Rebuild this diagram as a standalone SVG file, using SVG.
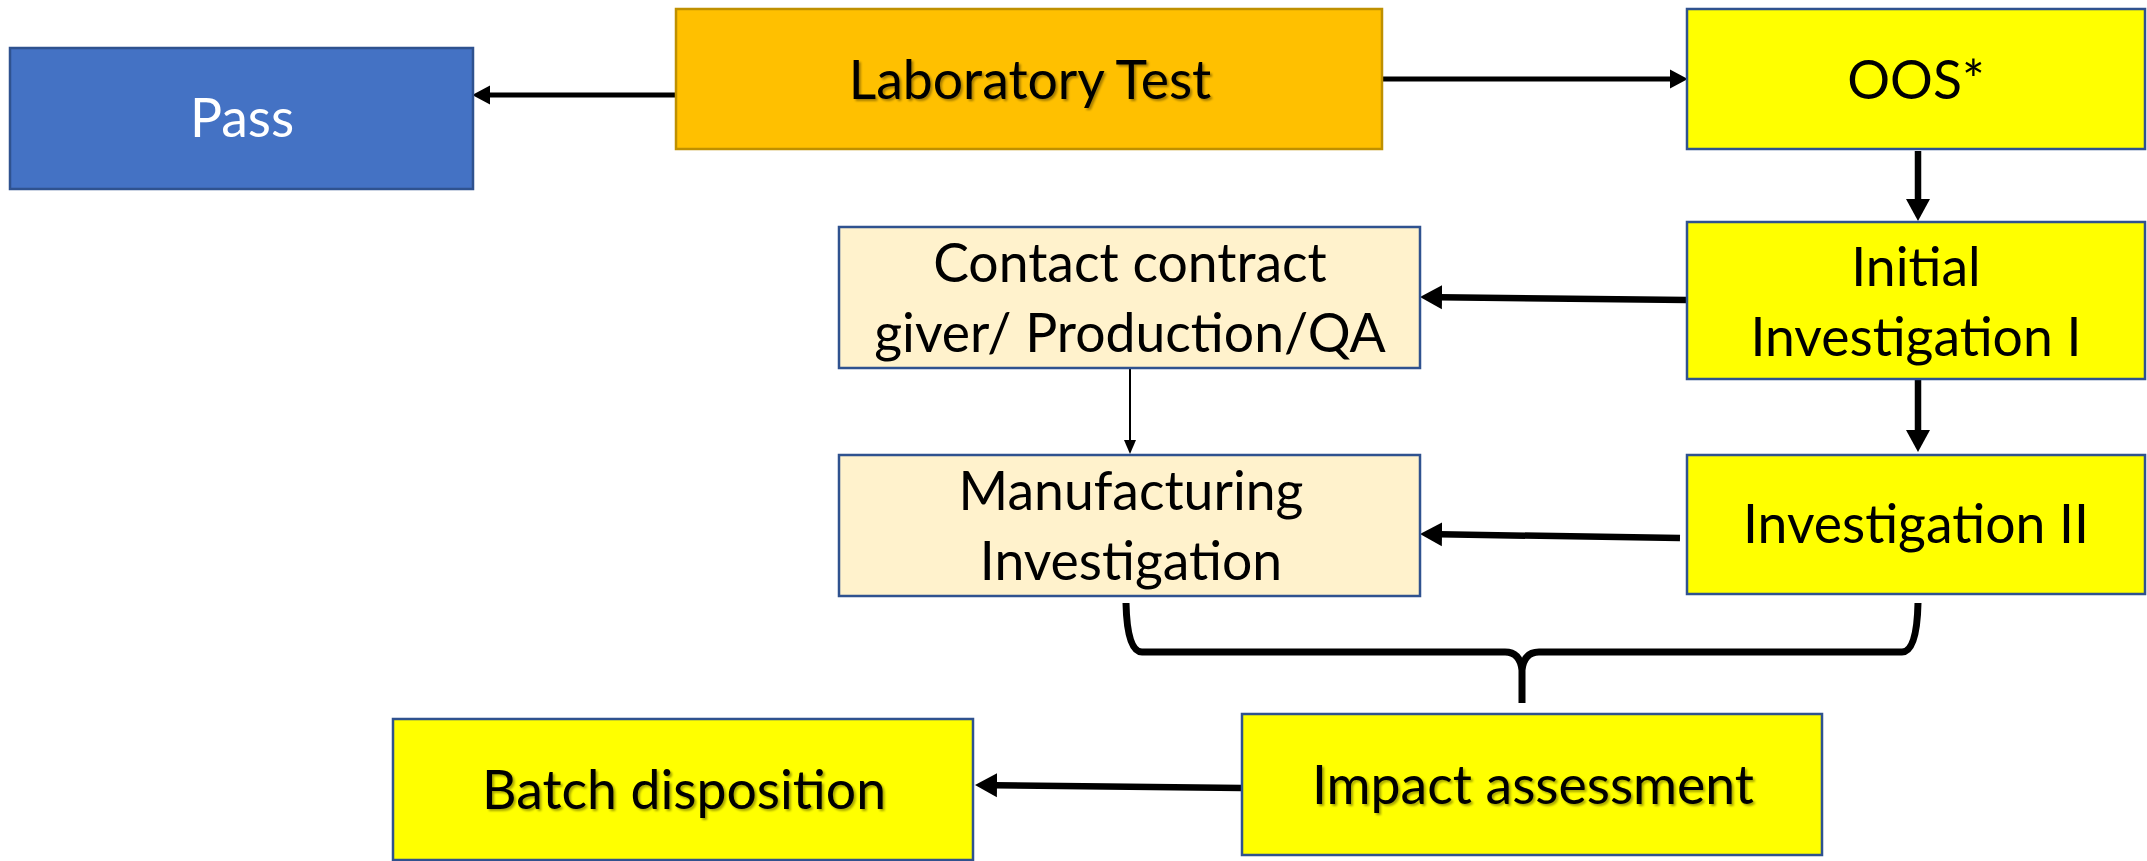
<svg xmlns="http://www.w3.org/2000/svg" width="2147" height="861" viewBox="0 0 2147 861">
<style>
.box{stroke:#2F528F;stroke-width:2.5}
.yel{fill:#FFFF00}
.cream{fill:#FFF2CC}
.t{font-family:Lato,"Open Sans",sans-serif;font-size:53.5px;fill:#000;text-anchor:middle}
.sh{filter:url(#ts)}
.conn{stroke:#000;fill:none}
</style>
<defs>
<filter id="ts" x="-5%" y="-20%" width="110%" height="140%">
<feDropShadow dx="2" dy="2" stdDeviation="1" flood-color="#000" flood-opacity="0.35"/>
</filter>
<marker id="hThick" markerUnits="userSpaceOnUse" markerWidth="24" markerHeight="26" refX="2" refY="12" orient="auto" viewBox="0 0 24 24">
<path d="M0,0 L22,12 L0,24 z" fill="#000"/>
</marker>
<marker id="hMed" markerUnits="userSpaceOnUse" markerWidth="19" markerHeight="20" refX="2" refY="9" orient="auto" viewBox="0 0 18 18">
<path d="M0,0 L17,9 L0,18 z" fill="#000"/>
</marker>
<marker id="hThin" markerUnits="userSpaceOnUse" markerWidth="15" markerHeight="13" refX="2" refY="6" orient="auto" viewBox="0 0 15 12">
<path d="M0,0 L14,6 L0,12 z" fill="#000"/>
</marker>
</defs>

<g id="connectors">
<line class="conn" x1="676" y1="95" x2="488" y2="95" stroke-width="5" marker-end="url(#hMed)"/>
<line class="conn" x1="1383" y1="79" x2="1672" y2="79" stroke-width="5" marker-end="url(#hMed)"/>
<line class="conn" x1="1918" y1="151" x2="1918" y2="201" stroke-width="6.5" marker-end="url(#hThick)"/>
<line class="conn" x1="1918" y1="380" x2="1918" y2="432" stroke-width="6.5" marker-end="url(#hThick)"/>
<line class="conn" x1="1687" y1="300" x2="1440" y2="297.2" stroke-width="6.5" marker-end="url(#hThick)"/>
<line class="conn" x1="1130" y1="369" x2="1130" y2="442" stroke-width="2" marker-end="url(#hThin)"/>
<line class="conn" x1="1680" y1="538" x2="1440" y2="534.3" stroke-width="6.5" marker-end="url(#hThick)"/>
<line class="conn" x1="1242" y1="788" x2="995" y2="785.2" stroke-width="6.5" marker-end="url(#hThick)"/>
<path class="conn" stroke-width="7" d="M1126,603 Q1127,652 1142,652 L1505,652 Q1520,652 1522,670 Q1524,652 1539,652 L1902,652 Q1917,652 1918,603 M1522,668 L1522,703"/>
</g>

<g id="pass">
<rect x="10" y="48" width="463" height="141" fill="#4472C4" stroke="#2F528F" stroke-width="2.5"/>
<text class="t" x="242" y="137" style="fill:#fff">Pass</text>
</g>
<g id="lab-test">
<rect x="676" y="9" width="706" height="140" fill="#FFC000" stroke="#BF9000" stroke-width="2.5"/>
<text class="t sh" x="1030" y="99">Laboratory Test</text>
</g>
<g id="oos">
<rect class="box yel" x="1687" y="9" width="458" height="140"/>
<text class="t" x="1916" y="99">OOS*</text>
</g>
<g id="initial-investigation">
<rect class="box yel" x="1687" y="222" width="458" height="157"/>
<text class="t" x="1916" y="286">Initial</text>
<text class="t" x="1916" y="356">Investigation I</text>
</g>
<g id="contact">
<rect class="box cream" x="839" y="227" width="581" height="141"/>
<text class="t" x="1130" y="282">Contact contract</text>
<text class="t" x="1130" y="352">giver/ Production/QA</text>
</g>
<g id="manufacturing">
<rect class="box cream" x="839" y="455" width="581" height="141"/>
<text class="t" x="1131" y="510">Manufacturing</text>
<text class="t" x="1131" y="580">Investigation</text>
</g>
<g id="investigation-ii">
<rect class="box yel" x="1687" y="455" width="458" height="139"/>
<text class="t" x="1916" y="543">Investigation II</text>
</g>
<g id="impact">
<rect class="box yel" x="1242" y="714" width="580" height="141"/>
<text class="t sh" x="1533" y="804">Impact assessment</text>
</g>
<g id="batch">
<rect class="box yel" x="393" y="719" width="580" height="141"/>
<text class="t sh" x="684" y="809">Batch disposition</text>
</g>
</svg>
